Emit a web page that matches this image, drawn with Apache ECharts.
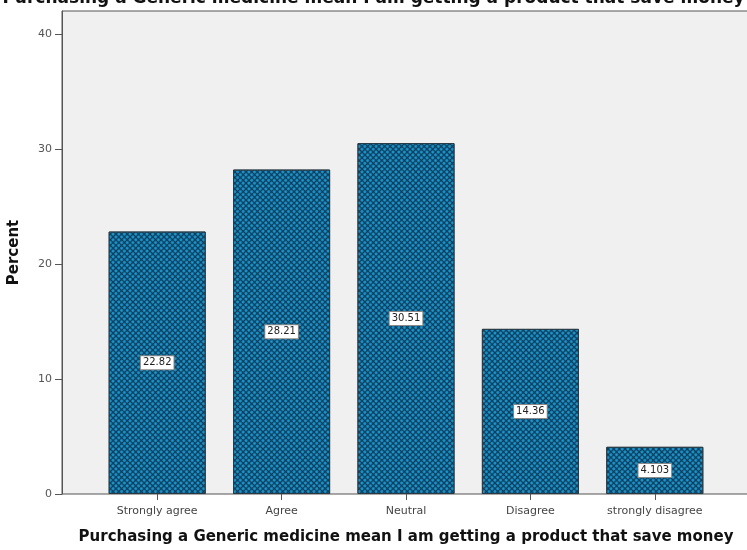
<!DOCTYPE html>
<html>
<head>
<meta charset="utf-8">
<script src="https://cdn.jsdelivr.net/npm/echarts@6/dist/echarts.min.js"></script>
<style>
  html, body { margin: 0; padding: 0; background: #ffffff; }
  #chart { width: 747px; height: 550px; }
</style>
</head>
<body>
<div id="chart"></div>
<script>
// Survey responses and their percentages
const categories = ['Strongly agree', 'Agree', 'Neutral', 'Disagree', 'strongly disagree'];
const percents = [22.82, 28.21, 30.51, 14.36, 4.103];
const yTicks = [0, 10, 20, 30, 40];

const titleText = 'Purchasing a Generic medicine mean I am getting a product that save money';
const FONT = 'DejaVu Sans, Verdana, sans-serif';

const chart = echarts.init(document.getElementById('chart'), null, { renderer: 'canvas' });

const plotTop = 11, plotBottom = 56;

chart.setOption({
  animation: false,
  title: {
    text: titleText,
    left: 'center',
    top: -15,
    textStyle: { fontFamily: FONT, fontSize: 17, fontWeight: 'bold', color: '#111' }
  },
  grid: [
    // framed plot panel with the axes
    { left: 62, right: -2, top: plotTop, bottom: plotBottom, show: true,
      outerBoundsMode: 'none', containLabel: false,
      backgroundColor: '#f0f0f0', borderColor: '#555', borderWidth: 1 },
    // inner band where the bars sit
    { left: 95, right: 30, top: plotTop, bottom: plotBottom,
      outerBoundsMode: 'none', containLabel: false }
  ],
  xAxis: [
    { gridIndex: 0, type: 'value', min: 0, max: 1, show: false },
    {
      gridIndex: 1, type: 'category', data: categories,
      name: titleText, nameLocation: 'middle', nameGap: 36,
      nameTextStyle: { fontFamily: FONT, fontSize: 15, fontWeight: 'bold', color: '#111' },
      axisLine: { show: false },
      axisTick: { show: true, alignWithLabel: true, length: 6, lineStyle: { color: '#555' } },
      axisLabel: { fontFamily: FONT, fontSize: 11, color: '#444', margin: 12 }
    }
  ],
  yAxis: [
    {
      gridIndex: 0, type: 'value', min: 0, max: 42,
      name: 'Percent', nameLocation: 'middle', nameGap: 40, nameRotate: 90,
      nameTextStyle: { fontFamily: FONT, fontSize: 15, fontWeight: 'bold', color: '#111' },
      axisLine: { show: true, lineStyle: { color: '#555' } },
      axisTick: { show: true, length: 7, customValues: yTicks, lineStyle: { color: '#555' } },
      axisLabel: { fontFamily: FONT, fontSize: 11, color: '#555', margin: 10, customValues: yTicks },
      splitLine: { show: false }
    },
    { gridIndex: 1, type: 'value', min: 0, max: 42, show: false }
  ],
  series: [
    {
      type: 'bar',
      xAxisIndex: 1, yAxisIndex: 1,
      data: percents,
      barWidth: '78%',
      itemStyle: {
        color: '#0b3e5f',
        borderColor: '#2a3a44',
        borderWidth: 1,
        decal: {
          symbol: 'circle',
          symbolSize: 1,
          color: '#1f9ad0',
          dashArrayX: [3, 1],
          dashArrayY: [3, 1],
          rotation: Math.PI / 4
        }
      },
      label: {
        show: true,
        position: 'inside',
        formatter: p => String(p.value),
        fontFamily: FONT, fontSize: 10, color: '#222',
        backgroundColor: '#ffffff',
        borderColor: '#888', borderWidth: 1,
        padding: [2, 2, 1, 2]
      }
    }
  ]
});
</script>
</body>
</html>
